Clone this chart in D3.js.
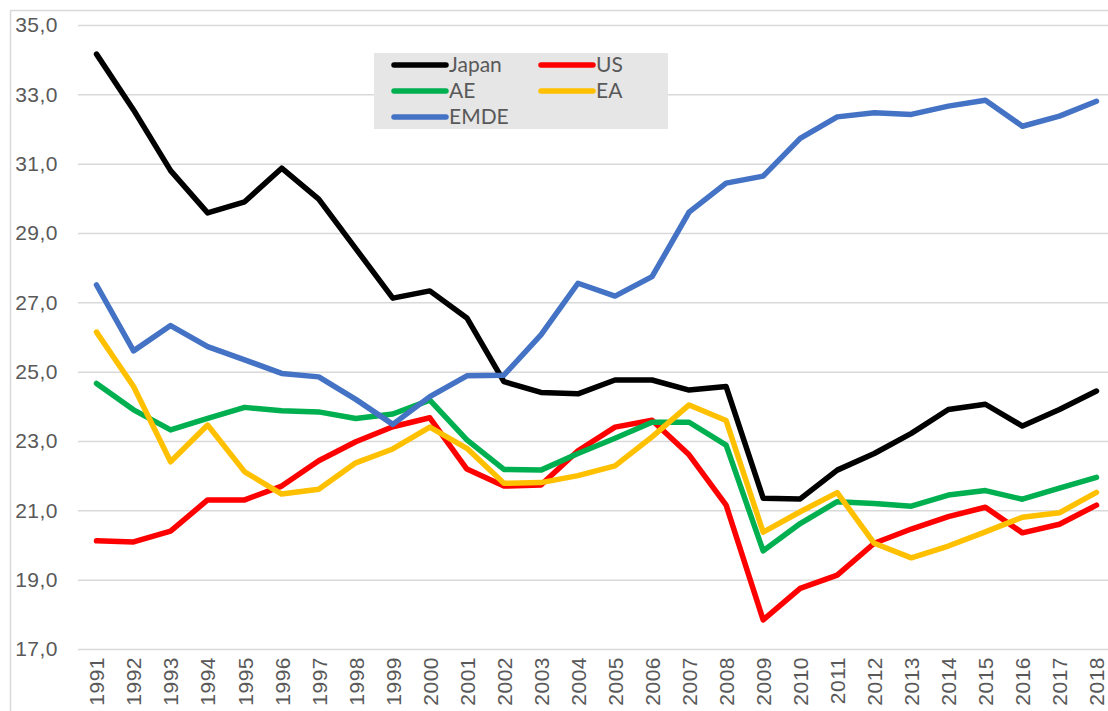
<!DOCTYPE html>
<html lang="en">
  <head>
    <meta charset="utf-8" />
    <title>Investment share</title>
    <style>
      body { margin: 0; background: #fff; }
      svg { display: block; font-family: Lato, "Open Sans", sans-serif; }
      .grid line { stroke: #d9d9d9; stroke-width: 1.5; }
      .tick text { fill: #595959; }
    </style>
    <script src="https://d3js.org/d3.v7.min.js"></script>
  </head>
  <body>
    <div id="main"></div>
    <script>
      var years = d3.range(1991, 2019);
      var yTicks = [17, 19, 21, 23, 25, 27, 29, 31, 33, 35];

      var japan = [34.16, 32.55, 30.8, 29.58, 29.9, 30.87, 29.98, 28.55, 27.12, 27.33,
        26.55, 24.71, 24.4, 24.36, 24.76, 24.76, 24.47, 24.57, 21.35, 21.33,
        22.16, 22.64, 23.22, 23.91, 24.06, 23.43, 23.91, 24.44];
      var us = [20.12, 20.09, 20.4, 21.3, 21.3, 21.7, 22.43, 22.98, 23.41, 23.67,
        22.19, 21.7, 21.73, 22.72, 23.4, 23.6, 22.6, 21.15, 17.84, 18.75,
        19.13, 20.05, 20.46, 20.82, 21.09, 20.35, 20.6, 21.15];
      var ae = [24.66, 23.9, 23.32, 23.65, 23.97, 23.87, 23.84, 23.65, 23.78, 24.18,
        23.03, 22.18, 22.16, 22.64, 23.08, 23.54, 23.54, 22.88, 19.83, 20.62,
        21.25, 21.2, 21.12, 21.44, 21.57, 21.32, 21.64, 21.95];
      var ea = [26.14, 24.57, 22.4, 23.46, 22.11, 21.47, 21.61, 22.37, 22.77, 23.4,
        22.79, 21.78, 21.8, 22.0, 22.28, 23.12, 24.04, 23.59, 20.37, 20.96,
        21.51, 20.05, 19.63, 19.97, 20.38, 20.8, 20.93, 21.52];
      var emde = [27.5, 25.6, 26.33, 25.72, 25.34, 24.95, 24.85, 24.2, 23.48, 24.28,
        24.88, 24.9, 26.06, 27.55, 27.18, 27.74, 29.6, 30.44, 30.64, 31.73,
        32.35, 32.47, 32.42, 32.66, 32.83, 32.08, 32.37, 32.8];

      var seriesNames = ["Japan", "US", "AE", "EA", "EMDE"];
      var seriesColors = ["#000000", "#ff0000", "#00b050", "#ffc000", "#4472c4"];
      var seriesValues = [japan, us, ae, ea, emde];

      function draw() {
        var width = 1108, height = 711;
        var margin = { left: 78, right: 1115, top: 25, bottom: 649 };

        var svg = d3
          .select("#main")
          .append("svg")
          .attr("width", width)
          .attr("height", height);

        // outer chart border (right/bottom fall outside the window)
        svg
          .append("rect")
          .attr("x", 10.5)
          .attr("y", 10.5)
          .attr("width", 1120)
          .attr("height", 720)
          .attr("fill", "none")
          .attr("stroke", "#d9d9d9")
          .attr("stroke-width", 1.5);

        var x = d3
          .scalePoint()
          .domain(years)
          .range([margin.left, margin.right])
          .padding(0.5);
        var y = d3.scaleLinear().domain([17, 35]).range([margin.bottom, margin.top]);

        // gridlines + y labels
        var yAxis = d3
          .axisLeft(y)
          .tickValues(yTicks)
          .tickSize(-(margin.right - margin.left))
          .tickPadding(20)
          .tickFormat(function (d) {
            return d3.format(".1f")(d).replace(".", ",");
          });

        var gy = svg
          .append("g")
          .attr("class", "grid")
          .attr("transform", "translate(" + margin.left + ",0)")
          .call(yAxis);
        gy.select(".domain").remove();
        gy.selectAll("text")
          .attr("font-size", "21px")
          .style("letter-spacing", "0.5px");

        // x labels, rotated
        var xAxis = d3.axisBottom(x).tickSize(0).tickPadding(0);
        var gx = svg
          .append("g")
          .attr("transform", "translate(0," + margin.bottom + ")")
          .call(xAxis);
        gx.select(".domain").remove();
        gx.selectAll("text")
          .attr("font-size", "21px")
          .style("letter-spacing", "0.5px")
          .attr("transform", "rotate(-90)")
          .attr("x", -8)
          .attr("y", 0)
          .attr("dy", "0.35em")
          .style("text-anchor", "end");

        // lines
        var line = d3
          .line()
          .x(function (d, i) {
            return x(years[i]);
          })
          .y(function (d) {
            return y(d);
          });

        svg
          .selectAll("path.series")
          .data(seriesValues)
          .enter()
          .append("path")
          .attr("class", "series")
          .attr("d", line)
          .attr("fill", "none")
          .attr("stroke", function (d, i) {
            return seriesColors[i];
          })
          .attr("stroke-width", 5.5)
          .attr("stroke-linejoin", "round")
          .attr("stroke-linecap", "round");

        // legend
        var legend = svg.append("g").attr("transform", "translate(374,53)");
        legend
          .append("rect")
          .attr("width", 294)
          .attr("height", 76)
          .attr("fill", "#e7e6e6");

        var item = legend
          .selectAll("g.item")
          .data(seriesNames)
          .enter()
          .append("g")
          .attr("class", "item")
          .attr("transform", function (d, i) {
            return "translate(" + (i % 2) * 147 + "," + (12 + Math.floor(i / 2) * 26) + ")";
          });

        item
          .append("line")
          .attr("x1", 20)
          .attr("x2", 72)
          .attr("stroke", function (d, i) {
            return seriesColors[i];
          })
          .attr("stroke-width", 5.5)
          .attr("stroke-linecap", "round");

        item
          .append("text")
          .attr("x", 75)
          .attr("dy", "0.35em")
          .attr("font-size", "21px")
          .attr("fill", "#595959")
          .text(function (d) {
            return d;
          });
      }
      draw();
    </script>
  </body>
</html>
